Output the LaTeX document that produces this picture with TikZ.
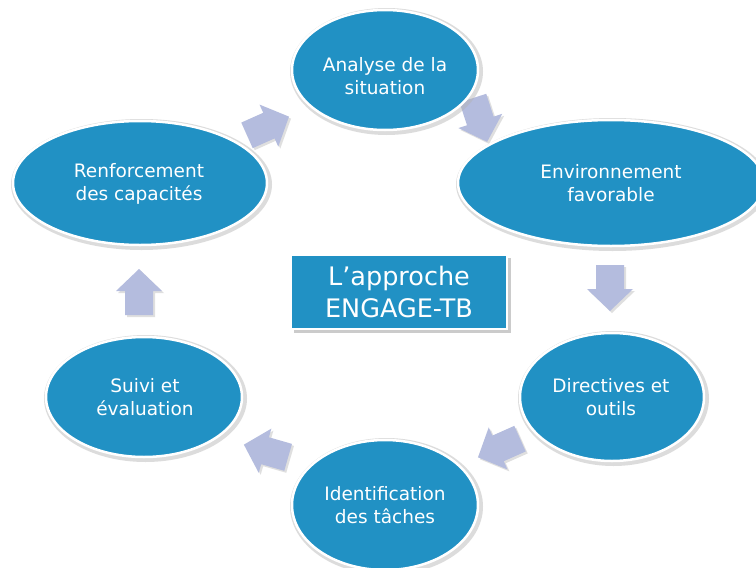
\documentclass[tikz,border=0pt]{standalone}
\usepackage{fontspec}
\setmainfont{DejaVu Sans}
\usetikzlibrary{shapes.geometric}
\definecolor{ellblue}{HTML}{2191C4}
\definecolor{arrowc}{HTML}{B4BCDE}
\tikzset{
  ell/.style={ellipse, fill=ellblue, draw=white, line width=2.5pt, inner sep=0pt},
  elltext/.style={text=white, align=center, inner sep=0pt, font=\fontsize{18.5}{23.5}\selectfont},
  ellshadow/.style={ellipse, fill=black!30, opacity=0.45, inner sep=0pt},
  blockarrow/.style={fill=arrowc},
  arrowshadow/.style={fill=black!35, opacity=0.35},
  centerbox/.style={rectangle, fill=ellblue, draw=white, line width=2pt, text=white,
    align=center, inner sep=0pt, font=\fontsize{25.5}{32}\selectfont},
}
\newcommand\barrowat[4]{% name, x, y, angle
  \begin{scope}[shift={(#2+2,#3+2)},rotate=#4]
    \fill[arrowshadow] (-23,-14) -- (1,-14) -- (1,-23) -- (23,0) -- (1,23) -- (1,14) -- (-23,14) -- cycle;
  \end{scope}
  \begin{scope}[shift={(#2,#3)},rotate=#4]
    \fill[blockarrow] (-23,-14) -- (1,-14) -- (1,-23) -- (23,0) -- (1,23) -- (1,14) -- (-23,14) -- cycle;
    \coordinate (#1) at (0,0);
  \end{scope}}
\begin{document}
\begin{tikzpicture}[x=1pt,y=-1pt]
\useasboundingbox (0,0) rectangle (756,568);
\clip (0,0) rectangle (756,568);
\fill[white] (0,0) rectangle (756,568);
% arrows
\barrowat{a1}{268}{126}{24}
\barrowat{a2}{480}{120}{-72}
\barrowat{a3}{610}{288}{-90}
\barrowat{a4}{499}{448}{204}
\barrowat{a5}{266}{451}{164}
\barrowat{a6}{139}{292}{90}
% ellipse shadows
\node[ellshadow, minimum width=193pt, minimum height=127pt] at (386.5,71.5) {};
\node[ellshadow, minimum width=313pt, minimum height=133pt] at (612.5,184.5) {};
\node[ellshadow, minimum width=191pt, minimum height=135pt] at (613.5,398.5) {};
\node[ellshadow, minimum width=193pt, minimum height=137pt] at (386.5,506.5) {};
\node[ellshadow, minimum width=203pt, minimum height=127pt] at (145.5,398.5) {};
\node[ellshadow, minimum width=261pt, minimum height=131pt] at (141.5,184.5) {};
% ellipses
\node[ell, minimum width=186pt, minimum height=120pt] (an) at (385,70) {};
\node[ell, minimum width=306pt, minimum height=126pt] (en) at (611,183) {};
\node[ell, minimum width=184pt, minimum height=128pt] (di) at (612,397) {};
\node[ell, minimum width=186pt, minimum height=130pt] (id) at (385,505) {};
\node[ell, minimum width=196pt, minimum height=120pt] (su) at (144,397) {};
\node[ell, minimum width=254pt, minimum height=124pt] (re) at (140,183) {};
% ellipse texts
\node[elltext] (ant) at (385,76) {Analyse de la\\situation};
\node[elltext] (ent) at (611,183) {Environnement\\favorable};
\node[elltext] (dit) at (611,397) {Directives et\\outils};
\node[elltext] (idt) at (385,505) {Identification\\des tâches};
\node[elltext] (sut) at (145,397) {Suivi et\\évaluation};
\node[elltext] (ret) at (139,184) {Renforcement\\des capacités};
% center box
\fill[black!40, opacity=0.5] (294,258) rectangle (511,333);
\node[centerbox, minimum width=216pt, minimum height=74pt] (cb) at (399,292) {L’approche\\ENGAGE-TB};
\end{tikzpicture}
\end{document}
